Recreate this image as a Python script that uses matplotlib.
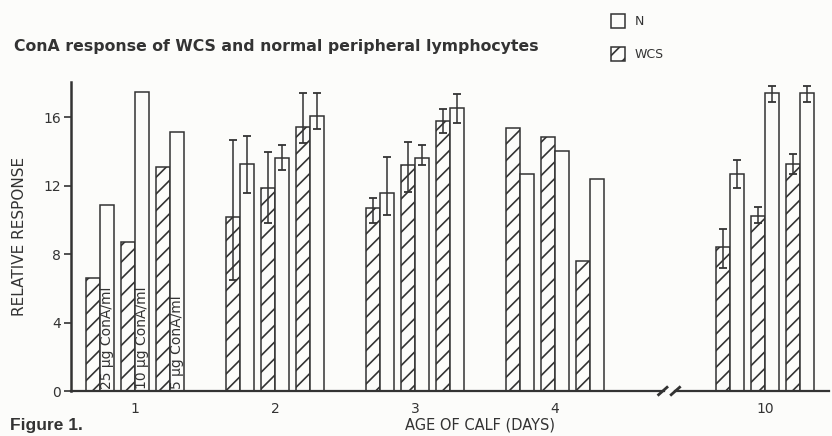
import numpy as np
import matplotlib
matplotlib.use("Agg")
import matplotlib.pyplot as plt

# calf age groups; "10" sits after an axis break
days = ["1", "2", "3", "4", "10"]
day_pos = [1, 2, 3, 4, 5.5]
doses = ["25 μg ConA/ml", "10 μg ConA/ml", "5 μg ConA/ml"]

# relative response, one list per dose (WCS = hatched, N = open)
wcs_25 = [6.6, 10.2, 10.7, 15.4, 8.4]
n_25 = [10.9, 13.3, 11.6, 12.7, 12.7]
wcs_10 = [8.7, 11.85, 13.2, 14.85, 10.25]
n_10 = [17.5, 13.6, 13.6, 14.05, 17.4]
wcs_5 = [13.1, 15.45, 15.8, 7.6, 13.3]
n_5 = [15.15, 16.1, 16.55, 12.4, 17.4]

# error bars (lower, upper); nan = no bar drawn
nan = np.nan
wcs_25_err = [[nan, 3.7, 0.9, nan, 1.2], [nan, 4.5, 0.6, nan, 1.1]]
n_25_err = [[nan, 1.7, 1.3, nan, 0.8], [nan, 1.6, 2.1, nan, 0.8]]
wcs_10_err = [[nan, 2.05, 1.55, nan, 0.45], [nan, 2.15, 1.35, nan, 0.5]]
n_10_err = [[nan, 0.7, 0.4, nan, 0.5], [nan, 0.8, 0.8, nan, 0.45]]
wcs_5_err = [[nan, 0.95, 0.7, nan, 0.6], [nan, 1.95, 0.7, nan, 0.55]]
n_5_err = [[nan, 0.8, 0.85, nan, 0.5], [nan, 1.3, 0.8, nan, 0.45]]

ink = "#333333"
paper = "#fcfcfa"
plt.rcParams["hatch.linewidth"] = 1.2
plt.rcParams["hatch.color"] = ink

fig = plt.figure(figsize=(8.32, 4.36), dpi=100, facecolor=paper)
ax = fig.add_axes([71 / 832, 45 / 436, 758 / 832, 309 / 436], facecolor=paper)

x = np.array(day_pos)
w = 0.1
series = [
    (-0.25, wcs_25, n_25, wcs_25_err, n_25_err),
    (0.0, wcs_10, n_10, wcs_10_err, n_10_err),
    (0.25, wcs_5, n_5, wcs_5_err, n_5_err),
]
for off, wv, nv, we, ne in series:
    bw = ax.bar(x + off - w / 2, wv, w, facecolor=paper, edgecolor=ink,
                hatch="//", linewidth=1.1, label="WCS")
    bn = ax.bar(x + off + w / 2, nv, w, facecolor=paper, edgecolor=ink,
                linewidth=1.1, label="N")
    for xs, vals, err in [(x + off - w / 2, wv, we), (x + off + w / 2, nv, ne)]:
        err = np.array(err)
        m = ~np.isnan(err[0])
        ax.errorbar(xs[m], np.array(vals)[m], yerr=err[:, m], fmt="none",
                    ecolor=ink, elinewidth=1.1, capsize=3, capthick=1.3)

# dose labels written up the open bars of day 1
for off, txt in zip([-0.25, 0.0, 0.25], doses):
    ax.text(x[0] + off + w / 2, 0.1, txt, rotation=90, ha="center", va="bottom",
            fontsize=10, color=ink)

ax.set_xlim(0.543, 5.957)
ax.set_ylim(0, 18.07)
ax.set_yticks([0, 4, 8, 12, 16])
ax.set_xticks(day_pos)
ax.set_xticklabels(days)
ax.tick_params(axis="y", direction="out", length=5, width=1.2, colors=ink,
               labelsize=10, pad=2)
ax.tick_params(axis="x", length=0, labelsize=10, colors=ink, pad=8)

for s in ["top", "right", "bottom"]:
    ax.spines[s].set_visible(False)
ax.spines["left"].set_linewidth(1.8)
ax.spines["left"].set_color(ink)

# x axis drawn in two pieces with a break before day 10
tr = ax.get_xaxis_transform()
ax.plot([0.543, 4.78], [0, 0], color=ink, lw=1.6, transform=tr, clip_on=False)
ax.plot([4.86, 5.957], [0, 0], color=ink, lw=1.6, transform=tr, clip_on=False)
ax.plot([4.74, 4.80], [-0.012, 0.012], color=ink, lw=2, transform=tr, clip_on=False)
ax.plot([4.83, 4.89], [-0.012, 0.012], color=ink, lw=2, transform=tr, clip_on=False)

ax.set_ylabel("RELATIVE RESPONSE", fontsize=11, color=ink, labelpad=12)
fig.text(480 / 832, 1 - 425 / 436, "AGE OF CALF (DAYS)", ha="center", va="center",
         fontsize=10.5, color=ink)
fig.text(10 / 832, 1 - 425 / 436, "Figure 1.", ha="left", va="center",
         fontsize=12.5, fontweight="bold", family="Liberation Sans", color=ink)
fig.text(14 / 832, 1 - 47 / 436, "ConA response of WCS and normal peripheral lymphocytes",
         ha="left", va="center", fontsize=11.3, fontweight="bold", color=ink)

handles = [bn, bw]
fig.legend(handles, ["N", "WCS"], loc="upper left",
           bbox_to_anchor=(605 / 832, 1 - 8 / 436), frameon=False,
           handlelength=1.1, handleheight=1.3, labelspacing=1.5,
           handletextpad=0.8, borderpad=0, fontsize=9, labelcolor=ink)

fig.savefig("out.png", dpi=100, facecolor=paper)
